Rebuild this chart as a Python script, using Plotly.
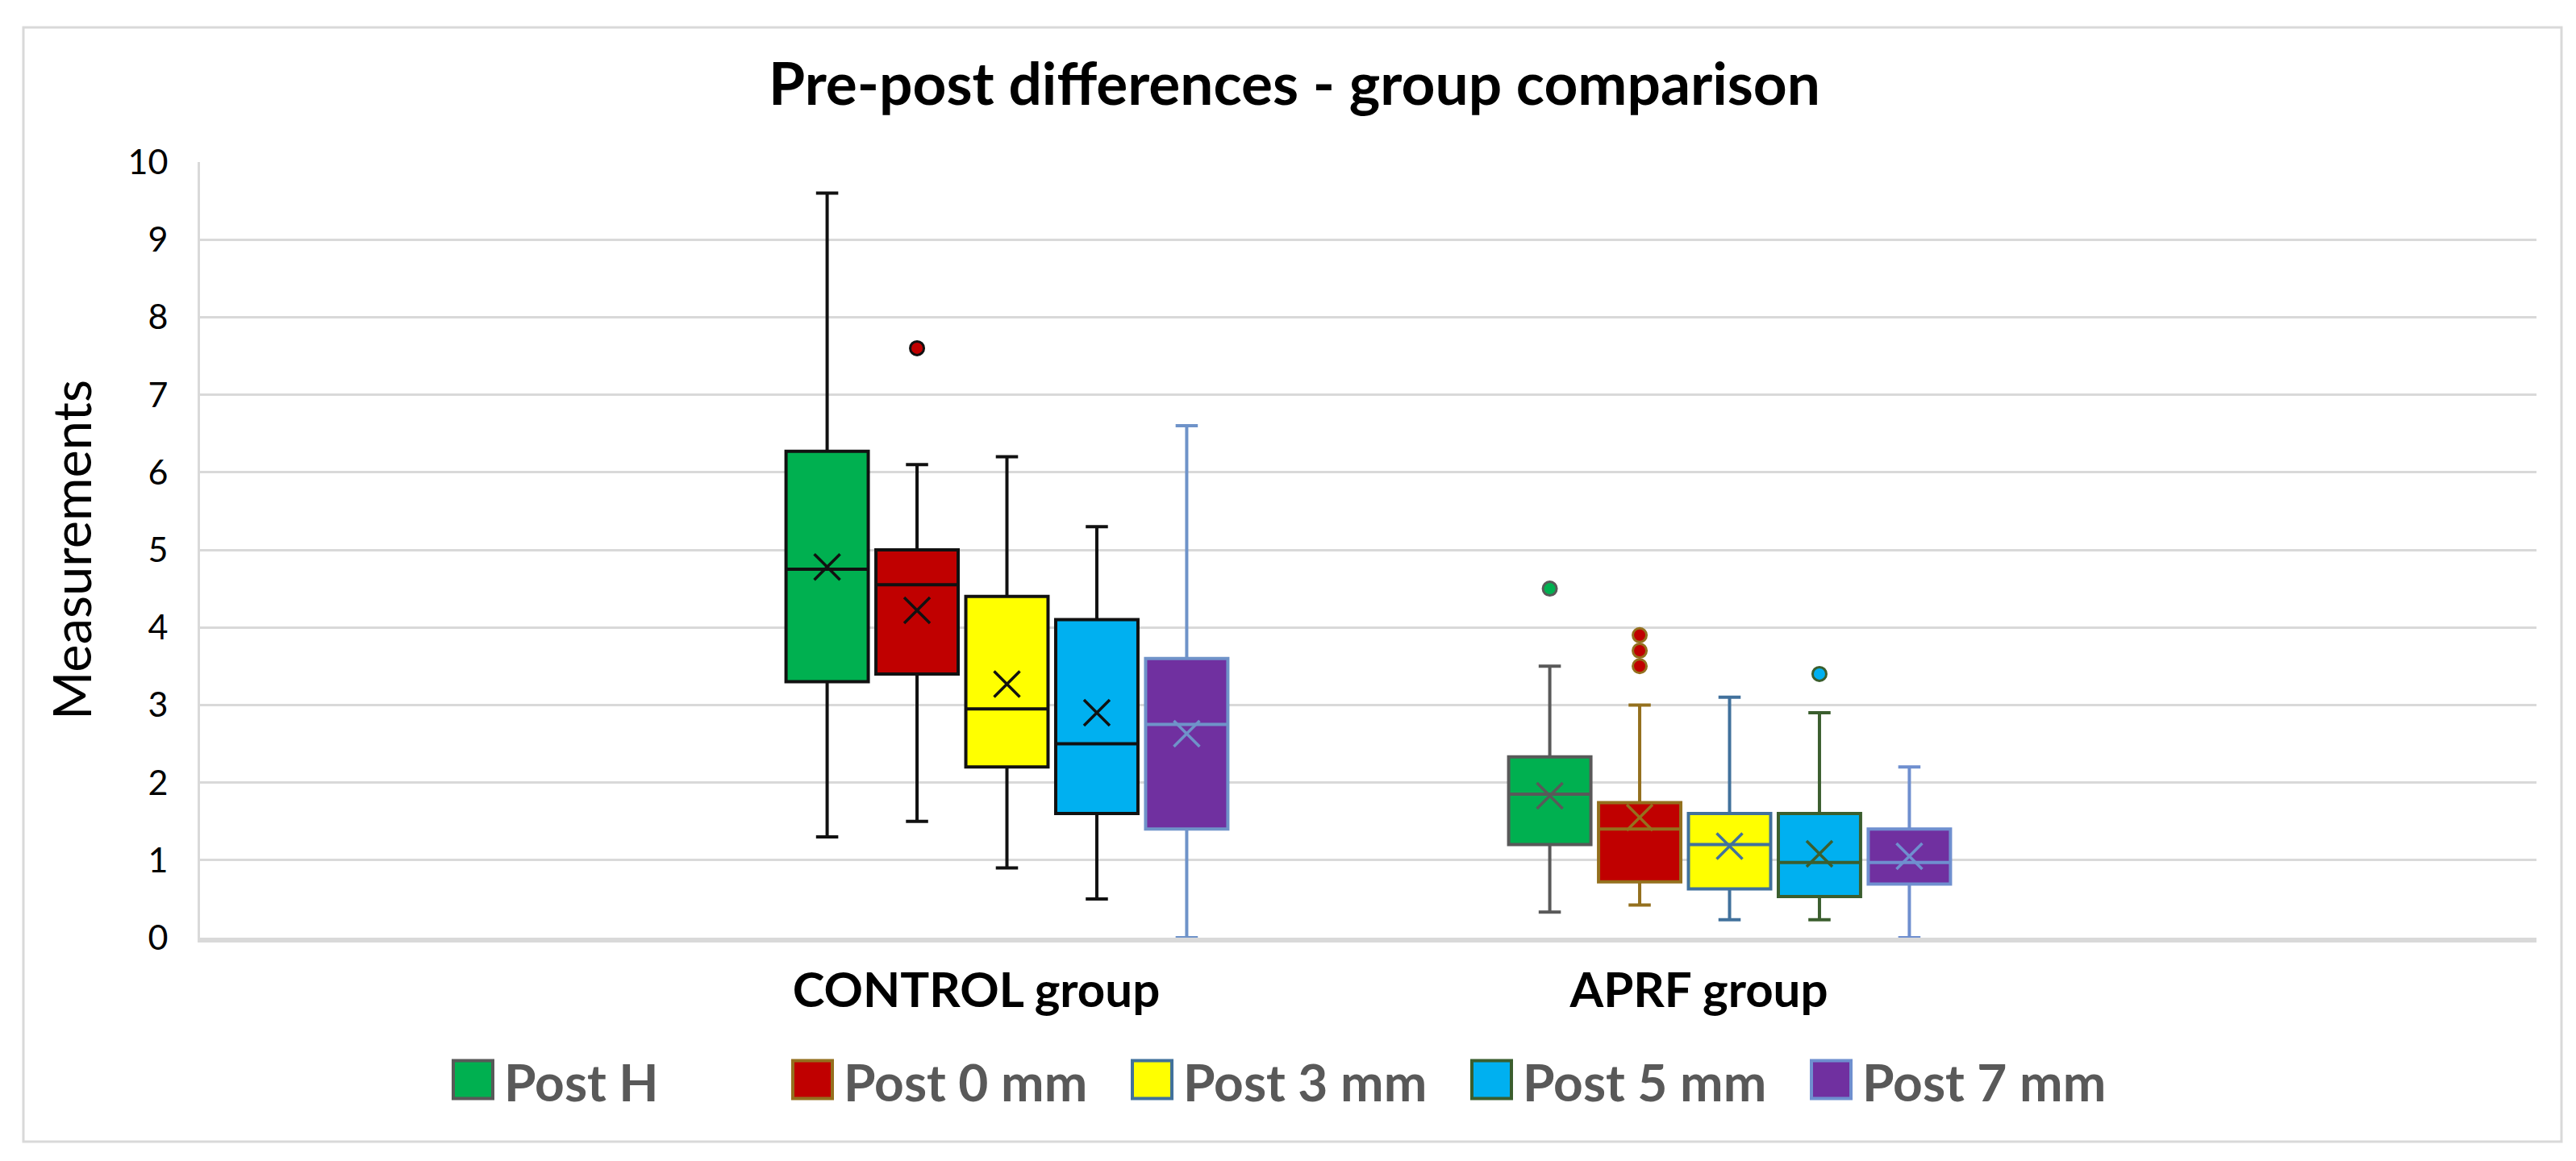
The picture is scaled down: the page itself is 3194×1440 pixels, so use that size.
import plotly.graph_objects as go

# ---------------- data ----------------
groups = ["CONTROL group", "APRF group"]
series = ["Post H", "Post 0 mm", "Post 3 mm", "Post 5 mm", "Post 7 mm"]

control_lower = [1.3, 1.5, 0.9, 0.5, 0.0]
control_q1 = [3.3, 3.4, 2.2, 1.6, 1.4]
control_median = [4.75, 4.55, 2.95, 2.5, 2.75]
control_q3 = [6.27, 5.0, 4.4, 4.1, 3.6]
control_upper = [9.6, 6.1, 6.2, 5.3, 6.6]
control_mean = [4.78, 4.22, 3.27, 2.9, 2.63]
control_outliers = [[], [7.6], [], [], []]

aprf_lower = [0.33, 0.42, 0.23, 0.23, 0.0]
aprf_q1 = [1.2, 0.72, 0.63, 0.53, 0.69]
aprf_median = [1.85, 1.4, 1.2, 0.97, 0.97]
aprf_q3 = [2.33, 1.74, 1.6, 1.6, 1.4]
aprf_upper = [3.5, 3.0, 3.1, 2.9, 2.2]
aprf_mean = [1.83, 1.55, 1.18, 1.08, 1.05]
aprf_outliers = [[4.5], [3.9, 3.7, 3.5], [], [3.4], []]

y_ticks = [0, 1, 2, 3, 4, 5, 6, 7, 8, 9, 10]

# ---------------- styles ----------------
fill_colors = ["#00B050", "#C00000", "#FFFF00", "#00B0F0", "#7030A0"]
control_lines = ["#111111", "#111111", "#111111", "#111111", "#6F93C9"]
aprf_lines = ["#595959", "#94701E", "#41719C", "#3B5E2E", "#6F8FCF"]

FONT = "Lato"
W, H = 3194, 1440
ML, MR, MT, MB = 240, 57, 193, 285
PW, PH = W - ML - MR, H - MT - MB

SLOT = 0.1244
BOX_W = 0.1138


def px2x(px):
    return (px - ML) / PW


def py2y(py):
    return (H - MB - py) / PH


stats = {
    0: (control_lower, control_q1, control_median, control_q3, control_upper,
        control_mean, control_outliers, control_lines),
    1: (aprf_lower, aprf_q1, aprf_median, aprf_q3, aprf_upper,
        aprf_mean, aprf_outliers, aprf_lines),
}

fig = go.Figure()

for g in range(len(groups)):
    lo, q1, md, q3, up, mn, outl, lines = stats[g]
    for s in range(len(series)):
        xpos = g + (s - (len(series) - 1) / 2) * SLOT
        fig.add_trace(go.Box(
            x=[xpos], q1=[q1[s]], median=[md[s]], q3=[q3[s]],
            lowerfence=[lo[s]], upperfence=[up[s]],
            orientation="v", width=BOX_W, whiskerwidth=0.27,
            fillcolor=fill_colors[s],
            line=dict(color=lines[s], width=4),
            boxpoints=False, name=series[s], showlegend=False,
            hoverinfo="skip",
        ))
        fig.add_trace(go.Scatter(
            x=[xpos], y=[mn[s]], mode="markers", showlegend=False,
            marker=dict(symbol="x-thin", size=32,
                        line=dict(color=lines[s], width=3.5)),
            hoverinfo="skip",
        ))
        if outl[s]:
            fig.add_trace(go.Scatter(
                x=[xpos] * len(outl[s]), y=outl[s], mode="markers",
                showlegend=False,
                marker=dict(symbol="circle", size=17, color=fill_colors[s],
                            line=dict(color=lines[s], width=3)),
                hoverinfo="skip",
            ))

# manual legend (large swatches like the original)
shapes = []
annotations = []
LEG_X0, LEG_STEP, SW, SH = 554, 421, 49, 47
LEG_YC = 1331
for s, name in enumerate(series):
    x0 = LEG_X0 + LEG_STEP * s
    shapes.append(dict(
        type="rect", xref="paper", yref="paper",
        x0=px2x(x0), x1=px2x(x0 + SW),
        y0=py2y(LEG_YC + SH / 2), y1=py2y(LEG_YC - SH / 2),
        fillcolor=fill_colors[s], line=dict(color=aprf_lines[s], width=4),
    ))
    annotations.append(dict(
        xref="paper", yref="paper", x=px2x(x0 + SW + 12), y=py2y(LEG_YC + 2),
        xanchor="left", yanchor="middle", text=name, showarrow=False,
        font=dict(family=FONT, size=64, color="#595959", weight="bold"),
    ))

# outer chart frame
shapes.append(dict(
    type="rect", xref="paper", yref="paper", layer="below",
    x0=px2x(21), x1=px2x(3168), y0=py2y(1408), y1=py2y(26),
    line=dict(color="#D9D9D9", width=3), fillcolor="rgba(0,0,0,0)",
))

fig.update_layout(
    width=W, height=H,
    margin=dict(l=ML, r=MR, t=MT, b=MB, autoexpand=False),
    paper_bgcolor="white", plot_bgcolor="white",
    showlegend=False,
    title=dict(
        text="Pre-post differences - group comparison",
        x=0.5, xanchor="center", xref="container",
        y=1 - 96 / H, yanchor="middle", yref="container",
        font=dict(family=FONT, size=73, color="black", weight="bold"),
    ),
    xaxis=dict(
        range=[0.5 - PW / 896 / 2, 0.5 + PW / 896 / 2],
        tickmode="array", tickvals=list(range(len(groups))), ticktext=groups,
        showgrid=False, zeroline=False,
        showline=True, linecolor="#D9D9D9", linewidth=6,
        ticks="", ticklabelstandoff=8, ticklabelshift=-38,
        tickfont=dict(family=FONT, size=60, color="black", weight="bold"),
    ),
    yaxis=dict(
        range=[0, 10], tickmode="array", tickvals=y_ticks,
        showgrid=True, gridcolor="#D9D9D9", gridwidth=3,
        zeroline=False, showline=True, linecolor="#D9D9D9", linewidth=3,
        ticks="", ticklabelstandoff=28,
        tickfont=dict(family=FONT, size=43, color="black"),
        title=dict(text="Measurements", standoff=24,
                   font=dict(family=FONT, size=65, color="black")),
    ),
    shapes=shapes,
    annotations=annotations,
)

fig.write_html("out.html")
